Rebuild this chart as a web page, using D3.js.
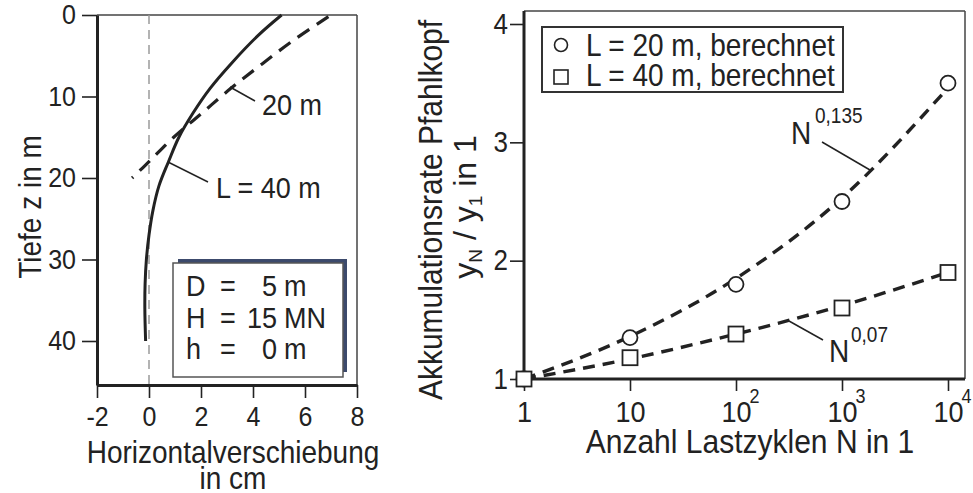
<!DOCTYPE html>
<html><head><meta charset="utf-8">
<script src="https://cdn.jsdelivr.net/npm/d3@7"></script>
<style>
body{margin:0;background:#fff}
svg{display:block}
text{font-family:"Liberation Sans",Arial,Helvetica,sans-serif;fill:#222}
</style>
</head><body>
<svg id="c" width="973" height="493"></svg>
<script>
// ---------- Left chart data ----------
const depthTicks = [0, 10, 20, 30, 40];
const dispTicks = [-2, 0, 2, 4, 6, 8];
const pile40Depth = [0, 2.5, 6, 9, 12, 15, 18, 21, 24, 27, 30, 33, 36, 40];
const pile40Disp  = [5.1, 4.2, 3.15, 2.35, 1.7, 1.15, 0.75, 0.38, 0.15, 0.0, -0.1, -0.15, -0.16, -0.13];
const pile20Depth = [0.2, 3, 6, 9, 12, 15, 18, 20];
const pile20Disp  = [6.9, 5.6, 4.35, 3.15, 2.05, 0.95, 0.0, -0.65];
const paramNames  = ["D", "H", "h"];
const paramValues = ["5", "15", "0"];
const paramUnits  = ["m", "MN", "m"];

// ---------- Right chart data ----------
const cycles  = [1, 10, 100, 1000, 10000];
const ratio20 = [1, 1.35, 1.8, 2.5, 3.5];
const ratio40 = [1, 1.18, 1.38, 1.6, 1.9];
const fit20   = [1, 1.36, 1.85, 2.53, 3.46];
const fit40   = [1, 1.17, 1.38, 1.62, 1.9];
const ratioTicks = [1, 2, 3, 4];
const cycleBase = ["1", "10", "10", "10", "10"];
const cycleExp  = ["", "", "2", "3", "4"];
const legendLabels = ["L = 20 m, berechnet", "L = 40 m, berechnet"];

const ink = "#222";
const svg = d3.select("#c");

// ================= LEFT CHART =================
const xL = d3.scaleLinear().domain([-2, 8]).range([97, 357]);
const yL = d3.scaleLinear().domain([0, 45.4]).range([15, 385]);

svg.append("line").attr("x1", xL(-2)).attr("x2", xL(8)).attr("y1", yL(0)).attr("y2", yL(0)).attr("stroke", "#444").attr("stroke-width", 1.5);
svg.append("line").attr("x1", xL(8)).attr("x2", xL(8)).attr("y1", yL(0)).attr("y2", yL(45.4)).attr("stroke", "#444").attr("stroke-width", 1.5);

svg.append("line").attr("x1", xL(0)).attr("x2", xL(0)).attr("y1", yL(0)).attr("y2", yL(45.4))
  .attr("stroke", "#9a9a9a").attr("stroke-width", 1.5).attr("stroke-dasharray", "9,6");

const axL = svg.append("g").attr("transform", `translate(${xL(-2)},0)`)
  .call(d3.axisLeft(yL).tickValues(depthTicks).tickSize(15).tickSizeOuter(0).tickPadding(6).tickFormat(d => String(d)));
const axB = svg.append("g").attr("transform", `translate(0,${yL(45.4)})`)
  .call(d3.axisBottom(xL).tickValues(dispTicks).tickSize(13).tickSizeOuter(0).tickPadding(8).tickFormat(d => String(d)));
[axL, axB].forEach(g => {
  g.select(".domain").attr("stroke", ink).attr("stroke-width", 3);
  g.selectAll(".tick line").attr("stroke", ink).attr("stroke-width", 1.6);
  g.selectAll(".tick text").attr("font-size", 25).attr("fill", ink)
    .style("font-family", '"Liberation Sans", Arial, sans-serif');
});

const lineL = d3.line().x(d => xL(d[1])).y(d => yL(d[0])).curve(d3.curveCatmullRom);
svg.append("path").datum(pile40Depth.map((z, i) => [z, pile40Disp[i]]))
  .attr("d", lineL).attr("fill", "none").attr("stroke", ink).attr("stroke-width", 3);
svg.append("path").datum(pile20Depth.map((z, i) => [z, pile20Disp[i]]))
  .attr("d", lineL).attr("fill", "none").attr("stroke", ink).attr("stroke-width", 3.2).attr("stroke-dasharray", "14,9");

svg.append("line").attr("x1", 230).attr("y1", 87).attr("x2", 255).attr("y2", 101).attr("stroke", ink).attr("stroke-width", 1.5);
svg.append("text").attr("x", 262).attr("y", 115).attr("font-size", 27).text("20 m");
svg.append("line").attr("x1", 168).attr("y1", 162).attr("x2", 208).attr("y2", 182).attr("stroke", ink).attr("stroke-width", 1.5);
svg.append("text").attr("x", 216).attr("y", 198).attr("font-size", 27).text("L = 40 m");

svg.append("rect").attr("x", 178).attr("y", 259).attr("width", 169).attr("height", 113).attr("fill", "#3c4a6c");
svg.append("rect").attr("x", 173).attr("y", 263).attr("width", 170).attr("height", 114).attr("fill", "#fff").attr("stroke", "#555").attr("stroke-width", 1.5);
paramNames.forEach((n, i) => {
  const by = 296 + i * 31.5;
  svg.append("text").attr("x", 186).attr("y", by).attr("font-size", 27).text(n);
  svg.append("text").attr("x", 228).attr("y", by).attr("font-size", 27).attr("text-anchor", "middle").text("=");
  svg.append("text").attr("x", 277).attr("y", by).attr("font-size", 27).attr("text-anchor", "end").text(paramValues[i]);
  svg.append("text").attr("x", 284).attr("y", by).attr("font-size", 27).text(paramUnits[i]);
});

svg.append("text").attr("transform", "translate(41,207) rotate(-90)").attr("text-anchor", "middle").attr("font-size", 28).text("Tiefe z in m");
svg.append("text").attr("x", 233).attr("y", 463).attr("text-anchor", "middle").attr("font-size", 28).text("Horizontalverschiebung");
svg.append("text").attr("x", 233).attr("y", 489).attr("text-anchor", "middle").attr("font-size", 28).text("in cm");

// ================= RIGHT CHART =================
const xR = d3.scaleLog().domain([1, 10000]).range([524, 948]);
const yR = d3.scaleLinear().domain([1, 4]).range([379, 24]);
const frameTop = 11, frameRight = 965;

svg.append("line").attr("x1", 524).attr("x2", frameRight).attr("y1", frameTop).attr("y2", frameTop).attr("stroke", "#444").attr("stroke-width", 1.5);
svg.append("line").attr("x1", frameRight).attr("x2", frameRight).attr("y1", frameTop).attr("y2", yR(1)).attr("stroke", "#444").attr("stroke-width", 1.5);

const axRL = svg.append("g").attr("transform", "translate(524,0)")
  .call(d3.axisLeft(yR).tickValues(ratioTicks).tickSize(14).tickSizeOuter(0).tickPadding(2).tickFormat(d => String(d)));
axRL.select(".domain").remove();
const axRB = svg.append("g").attr("transform", `translate(0,${yR(1)})`)
  .call(d3.axisBottom(xR).tickValues(cycles).tickSize(12).tickSizeOuter(0).tickPadding(12).tickFormat(() => ""));
axRB.select(".domain").remove();
axRB.selectAll(".tick text").remove();
[axRL, axRB].forEach(g => {
  g.selectAll(".tick line").attr("stroke", ink).attr("stroke-width", 1.6);
  g.selectAll(".tick text").attr("font-size", 26).attr("fill", ink)
    .style("font-family", '"Liberation Sans", Arial, sans-serif');
});
axRB.selectAll(".tick").each(function(d, i) {
  const g = d3.select(this);
  g.append("text").attr("x", 0).attr("y", 43).attr("text-anchor", "middle").attr("font-size", 27).attr("fill", ink)
    .style("font-family", '"Liberation Sans", Arial, sans-serif').text(cycleBase[i]);
  if (cycleExp[i]) {
    g.append("text").attr("x", 18).attr("y", 24).attr("font-size", 18).attr("fill", ink)
      .style("font-family", '"Liberation Sans", Arial, sans-serif').text(cycleExp[i]);
  }
});
svg.append("line").attr("x1", 524).attr("x2", 524).attr("y1", frameTop).attr("y2", yR(1) + 1.5).attr("stroke", ink).attr("stroke-width", 3);
svg.append("line").attr("x1", 524).attr("x2", frameRight).attr("y1", yR(1)).attr("y2", yR(1)).attr("stroke", ink).attr("stroke-width", 3);

const lineR = d3.line().x(d => xR(d[0])).y(d => yR(d[1])).curve(d3.curveMonotoneX);
[fit20, fit40].forEach(f => {
  svg.append("path").datum(cycles.map((c, i) => [c, f[i]])).attr("d", lineR)
    .attr("fill", "none").attr("stroke", ink).attr("stroke-width", 3.4).attr("stroke-dasharray", "12,8");
});

svg.selectAll(".c20").data(cycles).enter().append("circle")
  .attr("cx", d => xR(d)).attr("cy", (d, i) => yR(ratio20[i])).attr("r", 7.5)
  .attr("fill", "#fff").attr("stroke", ink).attr("stroke-width", 1.8);
svg.selectAll(".s40").data(cycles).enter().append("rect")
  .attr("x", d => xR(d) - 7.5).attr("y", (d, i) => yR(ratio40[i]) - 7.5).attr("width", 15).attr("height", 15)
  .attr("fill", "#fff").attr("stroke", ink).attr("stroke-width", 1.8);

svg.append("rect").attr("x", 542).attr("y", 27).attr("width", 301).attr("height", 65).attr("fill", "#fff").attr("stroke", "#333").attr("stroke-width", 2);
svg.append("circle").attr("cx", 561).attr("cy", 45).attr("r", 6.5).attr("fill", "#fff").attr("stroke", ink).attr("stroke-width", 1.6);
svg.append("rect").attr("x", 554).attr("y", 70).attr("width", 14).attr("height", 14).attr("fill", "#fff").attr("stroke", ink).attr("stroke-width", 1.6);
legendLabels.forEach((t, i) => {
  svg.append("text").attr("x", 586).attr("y", 56 + i * 30).attr("font-size", 28).text(t);
});

svg.append("line").attr("x1", 822).attr("y1", 142).attr("x2", 870).attr("y2", 170).attr("stroke", ink).attr("stroke-width", 1.5);
svg.append("text").attr("x", 791).attr("y", 144).attr("font-size", 28).text("N");
svg.append("text").attr("x", 815).attr("y", 123).attr("font-size", 19).text("0,135");
svg.append("line").attr("x1", 789).attr("y1", 321).attr("x2", 823).attr("y2", 340).attr("stroke", ink).attr("stroke-width", 1.5);
svg.append("text").attr("x", 829).attr("y", 362).attr("font-size", 28).text("N");
svg.append("text").attr("x", 851).attr("y", 342).attr("font-size", 19).text("0,07");

svg.append("text").attr("x", 750).attr("y", 453).attr("text-anchor", "middle").attr("font-size", 30).text("Anzahl Lastzyklen N in 1");
svg.append("text").attr("transform", "translate(442,210) rotate(-90)").attr("text-anchor", "middle").attr("font-size", 30).text("Akkumulationsrate Pfahlkopf");

// Reference lettering is slightly tall and narrow: enlarge glyphs, keep original run widths.
const stretch = 1.12;
svg.selectAll("text").each(function() {
  const fs = parseFloat(this.getAttribute("font-size"));
  if (!fs) return;
  const len = this.getComputedTextLength();
  this.setAttribute("font-size", fs * stretch);
  this.setAttribute("textLength", len);
  this.setAttribute("lengthAdjust", "spacingAndGlyphs");
});

const t2 = svg.append("text").attr("transform", "translate(476,207) rotate(-90)").attr("text-anchor", "middle").attr("font-size", 32);
t2.append("tspan").text("y");
t2.append("tspan").attr("font-size", 19).attr("dy", 6).text("N");
t2.append("tspan").attr("dy", -6).text(" / y");
t2.append("tspan").attr("font-size", 19).attr("dy", 6).text("1");
t2.append("tspan").attr("dy", -6).text(" in 1");
</script>
</body></html>
